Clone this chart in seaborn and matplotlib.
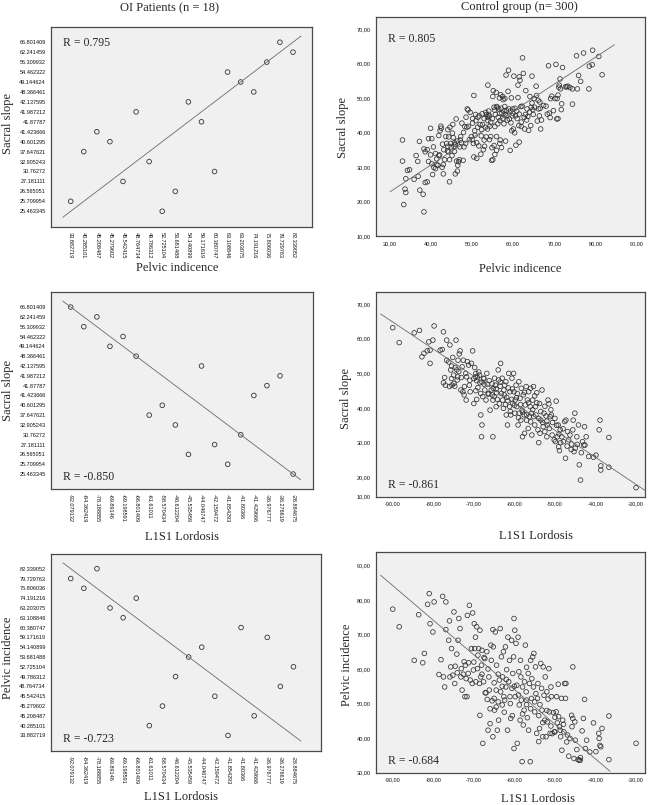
import matplotlib
matplotlib.use("Agg")
import matplotlib.pyplot as plt
import seaborn as sns
import numpy as np
from matplotlib.ticker import FuncFormatter

# ---- OI patients (n = 18), one entry per patient ----
oi_pi = [33.882719, 40.285101, 45.208487, 45.279602, 45.542415, 48.764734,
         49.786312, 52.725104, 53.681488, 54.140899, 59.171619, 60.380747,
         63.108846, 63.203075, 74.191216, 75.806036, 79.729763, 82.339052]
oi_ss = [25.709954, 37.647621, 41.423666, 40.601295, 27.181111, 41.987212,
         32.905243, 25.463345, 26.565051, 42.137595, 41.87787, 30.76272,
         54.462322, 49.144624, 48.366461, 56.309932, 66.801409, 62.241459]
oi_l1s1 = [-41.854293, -61.61011, -41.429666, -58.570434, -42.159472, -36.276619,
           -46.612204, -28.884675, -45.535459, -44.046747, -36.976777, -41.80366,
           -69.198591, -69.89146, -66.801409, -84.362419, -92.079132, -78.188855]

# ---- control group, values ----
ctrl_pi = [
    33.2, 33.2, 33.5, 33.8, 34.0, 34.0, 34.4, 34.9, 36.0, 36.5,
    36.9, 37.0, 37.3, 37.4, 38.2, 38.4, 38.4, 38.7, 38.7, 39.2,
    39.2, 39.5, 39.5, 40.0, 40.0, 40.3, 40.3, 40.5, 40.7, 40.8,
    41.2, 41.2, 41.5, 41.8, 42.0, 42.0, 42.3, 42.5, 42.6, 42.8,
    42.9, 43.1, 43.1, 43.4, 43.7, 43.9, 44.1, 44.2, 44.4, 44.4,
    44.6, 44.6, 44.7, 44.9, 45.0, 45.2, 45.4, 45.5, 45.7, 45.8,
    46.0, 46.0, 46.2, 46.3, 46.5, 46.6, 46.8, 47.0, 47.1, 47.3,
    47.5, 47.6, 47.9, 48.1, 48.3, 48.6, 48.8, 48.9, 49.1, 49.4,
    49.6, 49.9, 50.1, 50.2, 50.4, 50.5, 50.5, 50.7, 50.9, 51.0,
    51.2, 51.2, 51.5, 51.7, 51.8, 52.0, 52.2, 52.3, 52.5, 52.6,
    52.8, 53.0, 53.1, 53.3, 53.5, 53.6, 53.8, 53.9, 53.9, 54.1,
    54.3, 54.3, 54.4, 54.6, 54.8, 54.9, 55.1, 55.1, 55.2, 55.4,
    55.6, 55.6, 55.7, 55.9, 56.0, 56.0, 56.2, 56.4, 56.5, 56.7,
    56.8, 56.8, 57.0, 57.2, 57.3, 57.5, 57.6, 57.8, 58.0, 58.1,
    58.3, 58.4, 58.6, 58.8, 58.9, 59.1, 59.3, 59.4, 59.6, 59.8,
    59.9, 60.1, 60.2, 60.4, 60.6, 60.7, 60.9, 61.2, 61.2, 61.4,
    61.5, 61.5, 61.7, 61.9, 62.0, 62.2, 62.3, 62.5, 62.7, 62.8,
    63.0, 63.1, 63.3, 63.6, 63.8, 64.0, 64.1, 64.3, 64.4, 64.6,
    64.8, 64.9, 65.1, 65.2, 65.6, 65.7, 65.9, 66.1, 66.2, 66.4,
    66.5, 66.7, 66.9, 67.4, 68.0, 68.3, 68.6, 68.8, 69.1, 69.4,
    69.8, 70.2, 70.4, 70.6, 70.7, 70.9, 71.1, 71.2, 71.4, 71.5,
    71.7, 71.8, 72.0, 72.7, 73.0, 73.3, 73.8, 74.4, 74.4, 75.4,
    75.6, 75.9, 76.4, 77.1, 78.4, 78.5, 79.2, 79.3, 80.8, 81.6,
    53.0, 53.4, 54.0, 54.6, 55.0, 55.5, 56.0, 56.3, 56.8, 57.1,
    57.5, 58.0, 58.5, 59.0, 59.5, 60.0, 60.5, 61.0, 61.5, 62.0,
    52.4, 51.4, 50.2, 49.2, 48.0, 47.2, 46.4, 45.3, 44.2, 43.2,
    42.2, 41.5, 45.8, 48.5, 50.8, 53.8, 57.8, 63.4, 64.6, 66.6,
    69.0, 70.9, 59.7, 58.2, 56.9, 55.4]
ctrl_ss = [
    37.8, 31.7, 19.1, 23.6, 22.6, 26.6, 29.0, 29.2, 26.4, 33.3,
    31.6, 27.3, 37.4, 23.3, 22.1, 17.0, 35.2, 34.4, 25.5, 25.7,
    35.0, 38.2, 31.6, 41.2, 33.5, 38.2, 30.9, 27.8, 35.8, 29.9,
    33.9, 29.5, 30.6, 30.5, 33.3, 39.1, 40.5, 41.8, 41.2, 29.9,
    36.6, 30.7, 28.0, 32.1, 38.8, 36.8, 34.6, 40.8, 38.7, 34.4,
    25.7, 32.1, 41.5, 36.8, 35.8, 33.3, 42.3, 38.5, 36.0, 37.0,
    36.6, 28.0, 43.9, 31.7, 28.8, 30.5, 31.5, 32.1, 35.8, 38.8,
    37.0, 42.7, 31.9, 35.8, 41.7, 44.4, 41.5, 46.8, 46.5, 37.9,
    45.8, 38.8, 37.9, 42.7, 36.8, 50.7, 32.9, 40.5, 45.2, 43.4,
    37.0, 32.5, 44.4, 36.1, 44.8, 42.3, 33.7, 39.0, 45.4, 42.3,
    35.0, 37.8, 36.0, 41.5, 38.7, 45.2, 44.4, 53.7, 43.4, 46.2,
    44.8, 37.9, 41.8, 38.8, 31.9, 35.6, 50.4, 32.1, 52.1, 47.3,
    41.7, 33.6, 45.2, 51.6, 38.8, 34.8, 47.3, 44.4, 46.8, 50.0,
    43.4, 36.8, 50.9, 35.6, 45.6, 50.4, 49.5, 46.2, 49.8, 45.2,
    56.6, 46.4, 43.6, 51.9, 58.0, 43.9, 34.8, 46.2, 50.0, 44.8,
    46.8, 41.0, 56.3, 39.9, 44.8, 36.3, 46.2, 53.7, 50.1, 42.0,
    56.1, 37.2, 55.1, 47.5, 41.7, 47.6, 61.6, 57.1, 44.4, 41.0,
    45.2, 52.1, 43.6, 44.6, 40.6, 45.9, 50.4, 42.0, 47.3, 56.3,
    46.6, 45.2, 49.8, 47.3, 53.4, 50.7, 43.3, 49.3, 46.8, 44.8,
    48.8, 41.0, 43.6, 47.8, 47.6, 45.3, 59.3, 45.6, 49.8, 50.5,
    46.3, 49.8, 59.7, 43.9, 49.8, 50.8, 53.1, 53.7, 55.5, 52.6,
    46.6, 48.3, 58.8, 53.2, 53.2, 53.4, 53.0, 52.6, 48.2, 62.2,
    52.6, 56.5, 54.8, 63.0, 52.6, 59.2, 59.6, 63.8, 62.0, 56.7,
    44.0, 45.8, 45.0, 43.0, 44.0, 46.5, 47.5, 42.5, 45.5, 47.0,
    44.0, 47.5, 44.8, 46.8, 42.8, 45.5, 47.0, 44.0, 45.3, 43.0,
    40.8, 41.5, 44.0, 41.8, 40.0, 37.8, 37.5, 39.8, 36.0, 35.0,
    33.5, 32.3, 34.5, 36.8, 39.2, 41.0, 42.5, 46.8, 48.5, 47.0,
    44.3, 44.0, 40.5, 37.5, 37.8, 36.2]

ctrl2_l1s1 = [
    -90.0, -88.4, -84.7, -83.4, -82.8, -82.3, -81.5, -81.1, -80.8, -80.8,
    -80.1, -79.8, -78.3, -77.8, -77.5, -77.5, -77.2, -77.0, -76.7, -76.7,
    -76.2, -76.0, -75.9, -75.7, -75.5, -75.4, -75.2, -75.0, -74.9, -74.7,
    -74.6, -74.4, -74.2, -74.1, -73.9, -73.7, -73.6, -73.4, -73.2, -73.1,
    -72.9, -72.7, -72.6, -72.4, -72.3, -71.9, -71.8, -71.6, -71.3, -71.1,
    -70.9, -70.6, -70.3, -70.0, -70.0, -69.8, -69.6, -69.5, -69.3, -69.3,
    -69.1, -69.0, -68.8, -68.6, -68.5, -68.3, -68.3, -68.1, -68.0, -67.8,
    -67.6, -67.5, -67.3, -67.0, -66.8, -66.7, -66.3, -66.2, -66.0, -65.7,
    -65.5, -65.3, -65.3, -65.2, -65.0, -64.9, -64.7, -64.5, -64.4, -64.2,
    -64.0, -63.9, -63.7, -63.5, -63.4, -63.2, -63.0, -62.9, -62.7, -62.6,
    -62.4, -62.2, -62.1, -61.9, -61.7, -61.6, -61.4, -61.2, -61.1, -60.9,
    -60.7, -60.6, -60.4, -60.2, -60.1, -59.9, -59.8, -59.6, -59.4, -59.3,
    -59.1, -58.9, -58.8, -58.6, -58.4, -58.3, -58.1, -58.0, -57.8, -57.6,
    -57.5, -57.3, -57.1, -57.0, -56.8, -56.6, -56.5, -56.3, -56.1, -56.0,
    -55.8, -55.7, -55.5, -55.3, -55.2, -55.0, -54.8, -54.7, -54.5, -54.2,
    -54.0, -53.8, -53.7, -53.5, -53.2, -52.9, -52.7, -52.5, -52.2, -52.0,
    -51.9, -51.7, -51.5, -51.4, -51.2, -50.9, -50.7, -50.6, -50.2, -49.9,
    -49.7, -49.6, -49.4, -49.2, -49.1, -48.9, -48.7, -48.6, -48.3, -47.9,
    -47.6, -47.4, -47.3, -46.9, -46.6, -46.3, -45.9, -45.6, -45.5, -45.3,
    -45.1, -45.0, -44.6, -44.2, -44.0, -43.7, -43.5, -43.2, -42.9, -42.7,
    -42.6, -42.3, -41.7, -40.5, -39.9, -39.1, -38.9, -38.7, -38.7, -36.7,
    -36.7, -30.0,
    -60.5, -59.5, -58.5, -57.5, -56.5, -55.5, -55.0, -54.0, -53.5, -57.0,
    -58.0, -59.0, -61.5, -62.5, -63.5, -64.5, -65.5, -66.5, -67.5, -68.0,
    -69.5, -71.0, -72.0, -74.0, -75.5, -60.0, -61.0, -62.0, -56.0, -54.5,
    -52.5, -51.0, -50.0, -49.0, -48.0, -47.0, -46.0, -44.5, -52.0, -53.0]
ctrl2_ss = [
    63.2, 58.9, 61.7, 62.4, 54.8, 55.8, 56.5, 59.1, 56.7, 52.9,
    59.6, 63.7, 56.7, 56.9, 62.0, 47.3, 48.8, 46.6, 53.8, 59.6,
    53.3, 46.2, 58.2, 51.0, 52.1, 46.6, 54.6, 49.5, 47.1, 46.3,
    51.7, 59.6, 51.0, 48.1, 53.8, 50.5, 55.6, 56.5, 45.2, 48.8,
    51.9, 44.7, 53.8, 43.8, 46.2, 42.3, 49.0, 53.4, 52.4, 46.6,
    44.7, 52.9, 56.5, 48.5, 41.3, 51.7, 49.0, 50.0, 47.9, 42.5,
    48.8, 45.9, 50.4, 49.5, 47.3, 44.2, 38.0, 31.7, 35.1, 43.3,
    48.6, 46.9, 45.2, 42.3, 50.0, 46.9, 44.2, 47.9, 39.4, 45.2,
    43.8, 31.7, 42.3, 45.7, 43.3, 48.6, 46.6, 40.4, 44.4, 42.5,
    51.0, 48.1, 41.2, 46.3, 52.9, 44.2, 48.6, 42.3, 39.9, 45.2,
    46.6, 41.0, 47.6, 43.1, 35.1, 42.1, 50.0, 40.4, 44.7, 38.0,
    42.5, 48.6, 41.3, 50.0, 44.7, 38.5, 42.3, 46.6, 40.4, 44.2,
    35.1, 47.6, 38.5, 42.8, 36.5, 45.7, 39.4, 31.7, 43.8, 38.0,
    32.7, 40.9, 46.2, 38.0, 42.3, 34.1, 44.7, 37.5, 40.4, 45.7,
    38.5, 32.2, 42.3, 46.2, 37.5, 35.1, 40.4, 38.0, 44.4, 33.7,
    30.0, 41.3, 32.7, 36.5, 45.2, 34.6, 38.5, 33.2, 37.7, 31.7,
    35.1, 42.3, 41.2, 34.1, 37.5, 38.0, 32.2, 35.8, 30.8, 30.3,
    42.0, 35.0, 31.7, 35.1, 28.8, 27.7, 33.7, 30.0, 31.7, 30.3,
    36.1, 25.5, 36.5, 33.2, 30.8, 32.2, 29.6, 33.7, 36.5, 27.4,
    38.5, 28.4, 31.7, 35.1, 23.6, 19.2, 27.1, 30.3, 29.3, 34.6,
    29.3, 31.7, 26.0, 25.8, 26.4, 33.7, 36.5, 22.1, 23.3, 31.5,
    22.9, 17.0,
    45.5, 43.0, 41.0, 44.5, 41.5, 39.5, 43.5, 37.0, 39.0, 36.5,
    38.8, 37.2, 45.8, 43.8, 47.5, 45.5, 47.0, 44.0, 48.5, 47.5,
    45.0, 48.0, 50.0, 49.0, 48.5, 40.8, 39.0, 38.0, 36.0, 41.5,
    40.5, 39.5, 37.0, 32.5, 34.0, 29.0, 28.0, 29.5, 36.2, 35.8]

ctrl3_l1s1 = [
    -90.0, -88.4, -84.7, -83.6, -82.2, -82.6, -81.0, -81.4, -80.8, -80.1,
    -79.8, -78.6, -78.1, -77.7, -77.5, -77.2, -76.9, -76.9, -76.2, -76.0,
    -75.9, -75.7, -75.5, -75.2, -74.9, -74.7, -74.6, -74.2, -74.1, -73.9,
    -73.7, -73.4, -73.2, -73.1, -72.9, -72.6, -72.4, -72.2, -72.1, -71.9,
    -71.7, -71.6, -71.4, -71.3, -71.1, -70.9, -70.6, -70.4, -70.3, -70.1,
    -69.9, -69.8, -69.6, -69.5, -69.3, -69.1, -69.0, -68.8, -68.6, -68.5,
    -68.5, -68.3, -68.1, -68.0, -67.8, -67.6, -67.5, -67.3, -67.2, -67.0,
    -66.8, -66.7, -66.5, -66.3, -66.2, -66.0, -65.8, -65.7, -65.5, -65.3,
    -65.3, -65.2, -65.0, -64.9, -64.7, -64.5, -64.4, -64.2, -64.0, -63.9,
    -63.7, -63.5, -63.4, -63.2, -63.0, -62.9, -62.7, -62.6, -62.4, -62.2,
    -62.1, -61.9, -61.7, -61.6, -61.4, -61.2, -61.1, -60.9, -60.7, -60.6,
    -60.4, -60.2, -60.1, -60.1, -59.9, -59.8, -59.6, -59.4, -59.3, -59.1,
    -58.9, -58.8, -58.6, -58.4, -58.3, -58.1, -58.0, -57.8, -57.6, -57.5,
    -57.3, -57.1, -57.0, -56.8, -56.6, -56.5, -56.3, -56.1, -56.0, -55.8,
    -55.7, -55.5, -55.3, -55.2, -55.0, -54.8, -54.7, -54.5, -54.3, -54.2,
    -54.0, -53.8, -53.7, -53.5, -53.3, -53.2, -53.0, -52.9, -52.7, -52.5,
    -52.4, -52.2, -52.0, -51.9, -51.7, -51.5, -51.4, -51.2, -51.0, -50.9,
    -50.7, -50.4, -50.2, -50.0, -49.7, -49.6, -49.4, -49.2, -49.1, -48.9,
    -48.7, -48.6, -48.4, -48.3, -48.1, -47.9, -47.8, -47.6, -47.4, -47.3,
    -47.1, -46.9, -46.6, -46.3, -45.9, -45.8, -45.6, -45.6, -45.3, -45.1,
    -45.0, -44.6, -44.3, -44.0, -43.8, -43.7, -43.3, -43.0, -42.7, -42.5,
    -42.2, -41.4, -40.5, -39.9, -39.2, -39.1, -38.9, -38.7, -38.4, -36.7,
    -36.7, -30.0,
    -70.0, -68.0, -66.5, -65.0, -64.0, -63.0, -62.0, -61.0, -60.0, -59.0,
    -58.0, -57.0, -56.0, -55.0, -54.0, -53.0, -52.0, -51.0, -50.0, -60.5,
    -62.5, -64.5, -66.0, -58.5, -57.0]
ctrl3_pi = [
    77.3, 72.2, 62.5, 75.7, 64.5, 61.8, 81.8, 78.7, 73.1, 70.7,
    79.4, 58.4, 62.7, 81.0, 57.7, 54.8, 79.4, 71.4, 68.3, 73.9,
    57.7, 60.6, 65.9, 58.2, 76.5, 55.8, 60.8, 64.3, 58.9, 68.3,
    74.6, 71.7, 57.7, 60.1, 53.9, 58.5, 62.1, 52.0, 61.1, 57.2,
    52.0, 75.5, 58.7, 61.8, 78.4, 56.8, 65.9, 55.8, 76.2, 59.7,
    73.1, 65.9, 69.2, 56.3, 72.2, 60.1, 64.0, 65.9, 55.8, 71.2,
    46.6, 57.7, 61.1, 65.4, 38.5, 56.3, 63.3, 63.0, 53.1, 53.1,
    65.0, 51.2, 42.3, 57.7, 53.9, 44.2, 66.9, 62.5, 50.8, 71.4,
    40.4, 66.4, 51.5, 48.1, 70.7, 53.9, 61.1, 42.3, 50.5, 45.2,
    56.8, 71.7, 53.4, 63.5, 49.6, 57.7, 65.0, 52.0, 51.0, 66.4,
    54.8, 59.8, 42.3, 69.2, 56.3, 62.5, 52.0, 45.7, 68.3, 54.4,
    58.7, 63.5, 37.0, 74.6, 71.2, 52.0, 67.4, 55.3, 38.5, 69.2,
    59.2, 49.6, 45.2, 57.7, 51.0, 33.2, 54.8, 43.8, 48.1, 56.3,
    66.9, 53.4, 49.7, 45.9, 58.7, 42.3, 55.8, 33.2, 62.5, 51.5,
    57.2, 63.5, 54.8, 64.5, 47.6, 60.6, 52.9, 41.4, 51.5, 55.8,
    39.0, 42.8, 49.7, 61.6, 54.4, 48.1, 40.4, 60.6, 52.4, 45.2,
    57.7, 40.4, 53.4, 44.7, 51.3, 60.1, 47.6, 41.4, 54.8, 52.0,
    41.3, 47.4, 41.8, 41.8, 47.6, 52.0, 44.4, 55.6, 46.2, 43.3,
    42.3, 40.4, 51.5, 36.5, 45.2, 44.0, 41.8, 55.8, 51.5, 55.8,
    38.9, 40.9, 34.8, 39.9, 46.6, 43.3, 45.7, 60.6, 34.1, 44.7,
    39.4, 36.7, 33.8, 33.6, 33.6, 34.4, 42.1, 45.7, 51.2, 37.0,
    39.4, 36.0, 44.4, 36.1, 41.4, 39.9, 37.9, 37.5, 42.8, 46.4,
    33.8, 38.5,
    62.0, 58.5, 60.0, 56.0, 58.5, 55.0, 57.0, 50.0, 55.0, 52.5,
    47.0, 51.0, 48.5, 50.5, 46.5, 44.5, 48.0, 43.5, 46.0, 46.5,
    47.5, 49.0, 48.5, 62.5, 60.5]

r_oi = ["R = 0.795", "R = -0.850", "R = -0.723"]
r_ctrl = ["R = 0.805", "R = -0.861", "R = -0.684"]

SERIF = ["Liberation Serif", "DejaVu Serif"]
SANS = ["Liberation Sans", "DejaVu Sans"]
FRAME = "#4a4a4a"
PANEL_BG = "#f0f0f0"
DOT = "#333333"


def fmt_long(v):
    return f"{v:.6f}".rstrip("0").rstrip(".")


def comma_fmt(v, _pos=None):
    return f"{v:.2f}".replace(".", ",")


def rma_line(x, y):
    # reduced major axis: slope = sign(r) * sd(y) / sd(x), through the means
    sgn = np.sign(np.corrcoef(x, y)[0, 1])
    slope = sgn * np.std(y) / np.std(x)
    return slope, np.mean(y) - slope * np.mean(x)


def style_box(ax):
    ax.set_facecolor(PANEL_BG)
    for sp in ax.spines.values():
        sp.set_visible(True)
        sp.set_color(FRAME)
        sp.set_linewidth(0.9)
    ax.tick_params(length=2, width=0.6, color=FRAME, labelsize=4.0,
                   labelcolor="#111111", pad=1.5)
    ax.set_xlabel("")
    ax.set_ylabel("")


def oi_panel(ax, xv, yv, r_text, r_top, right_lim):
    # SPSS treats every value as its own category: position = rank
    xo = sorted(set(xv))
    yo = sorted(set(yv))
    xp = np.array([xo.index(v) for v in xv])
    yp = np.array([yo.index(v) for v in yv])
    n = len(xo)
    sns.scatterplot(x=xp, y=yp, ax=ax, marker="o", s=11,
                    facecolor="none", edgecolor=DOT, linewidth=0.6)
    slope, icpt = rma_line(xp, yp)
    xs = np.linspace(-0.6, n - 0.1, 400)
    ys = icpt + slope * xs
    keep = (ys >= -0.6) & (ys <= n - 0.35)
    ax.plot(xs[keep], ys[keep], color="#6a6a6a", lw=0.6)
    ax.set_xlim(-1.53, right_lim)
    ax.set_ylim(-1.55, n + 0.5)
    ax.set_xticks(range(n))
    ax.set_xticklabels([fmt_long(v) for v in xo], rotation=270,
                       family=SANS, va="top", ha="center")
    ax.set_yticks(range(len(yo)))
    ax.set_yticklabels([fmt_long(v) for v in yo], family=SANS)
    style_box(ax)
    ty = 0.92 if r_top else 0.06
    ax.text(0.046, ty, r_text, transform=ax.transAxes, family=SERIF,
            fontsize=8.5, va="center", ha="left")


def ctrl_panel(ax, xv, yv, r_text, r_top, xlim, ylim, xticks, yticks, ylabels):
    xv = np.asarray(xv)
    yv = np.asarray(yv)
    sns.scatterplot(x=xv, y=yv, ax=ax, marker="o", s=11,
                    facecolor="none", edgecolor=DOT, linewidth=0.55)
    slope, icpt = rma_line(xv, yv)
    xs = np.linspace(xv.min() - 3, xv.max() + 3, 400)
    ys = icpt + slope * xs
    keep = (ys >= ylim[0] + 0.3) & (ys <= yticks[-1])
    ax.plot(xs[keep], ys[keep], color="#6a6a6a", lw=0.6)
    ax.set_xlim(*xlim)
    ax.set_ylim(*ylim)
    ax.set_xticks(xticks)
    ax.xaxis.set_major_formatter(FuncFormatter(comma_fmt))
    ax.set_yticks(yticks)
    ax.set_yticklabels(ylabels)
    style_box(ax)
    for lab in ax.get_xticklabels() + ax.get_yticklabels():
        lab.set_family(SANS)
    ty = 0.9 if r_top else 0.055
    ax.text(0.045, ty, r_text, transform=ax.transAxes, family=SERIF,
            fontsize=8.5, va="center", ha="left")


sns.set_style("white")
plt.rcParams["font.family"] = SERIF

fig = plt.figure(figsize=(6.5, 8.05), dpi=100)

# left column (OI patients)
ax_l1 = fig.add_axes([0.078, 0.7184, 0.4025, 0.2477])
ax_l2 = fig.add_axes([0.078, 0.3922, 0.4031, 0.2447])
ax_l3 = fig.add_axes([0.078, 0.0675, 0.4158, 0.2443])
# right column (control group)
ax_r1 = fig.add_axes([0.578, 0.7068, 0.4143, 0.2724])
ax_r2 = fig.add_axes([0.578, 0.3830, 0.4143, 0.2547])
ax_r3 = fig.add_axes([0.578, 0.0401, 0.4143, 0.2745])

oi_panel(ax_l1, oi_pi, oi_ss, r_oi[0], True, 18.48)
oi_panel(ax_l2, oi_l1s1, oi_ss, r_oi[1], False, 18.5)
oi_panel(ax_l3, oi_l1s1, oi_pi, r_oi[2], False, 19.1)

pi_ticks = [30, 40, 50, 60, 70, 80, 90]
lord_ticks = [-90, -80, -70, -60, -50, -40, -30]

ticks1 = [10, 20, 30, 40, 50, 60, 70]
ctrl_panel(ax_r1, ctrl_pi, ctrl_ss, r_ctrl[0], True, (26.7, 92.0), (10, 73.5),
           pi_ticks, ticks1, [comma_fmt(t) for t in ticks1])

# SPSS puts the lowest label "10,00" on the bottom edge of this panel
ylim2 = (14.4, 73.6)
ticks2 = [ylim2[0], 20, 30, 40, 50, 60, 70]
labels2 = [comma_fmt(t) for t in [10, 20, 30, 40, 50, 60, 70]]
ctrl_panel(ax_r2, ctrl2_l1s1, ctrl2_ss, r_ctrl[1], False, (-94.2, -27.8), ylim2,
           lord_ticks, ticks2, labels2)

ticks3 = [30, 40, 50, 60, 70, 80, 90]
ctrl_panel(ax_r3, ctrl3_l1s1, ctrl3_pi, r_ctrl[2], False, (-94.2, -27.8), (30, 93.9),
           lord_ticks, ticks3, [comma_fmt(t) for t in ticks3])


def ftext(x, y, s, rot=0):
    fig.text(x / 650, 1 - y / 805, s, rotation=rot, ha="center", va="center",
             family=SERIF, fontsize=9)


ftext(169, 8, "OI Patients (n = 18)")
ftext(519, 7, "Control group (n= 300)")
ftext(177, 268, "Pelvic indicence")
ftext(520, 269, "Pelvic indicence")
ftext(182, 537, "L1S1 Lordosis")
ftext(536, 536, "L1S1 Lordosis")
ftext(181, 797, "L1S1 Lordosis")
ftext(538, 799, "L1S1 Lordosis")
ftext(8, 123, "Sacral slope", 90)
ftext(343, 128, "Sacral slope", 90)
ftext(8, 390, "Sacral slope", 90)
ftext(346, 398, "Sacral slope", 90)
ftext(8, 658, "Pelvic incidence", 90)
ftext(347, 665, "Pelvic incidence", 90)

fig.savefig("out.png", dpi=100, facecolor="white")
